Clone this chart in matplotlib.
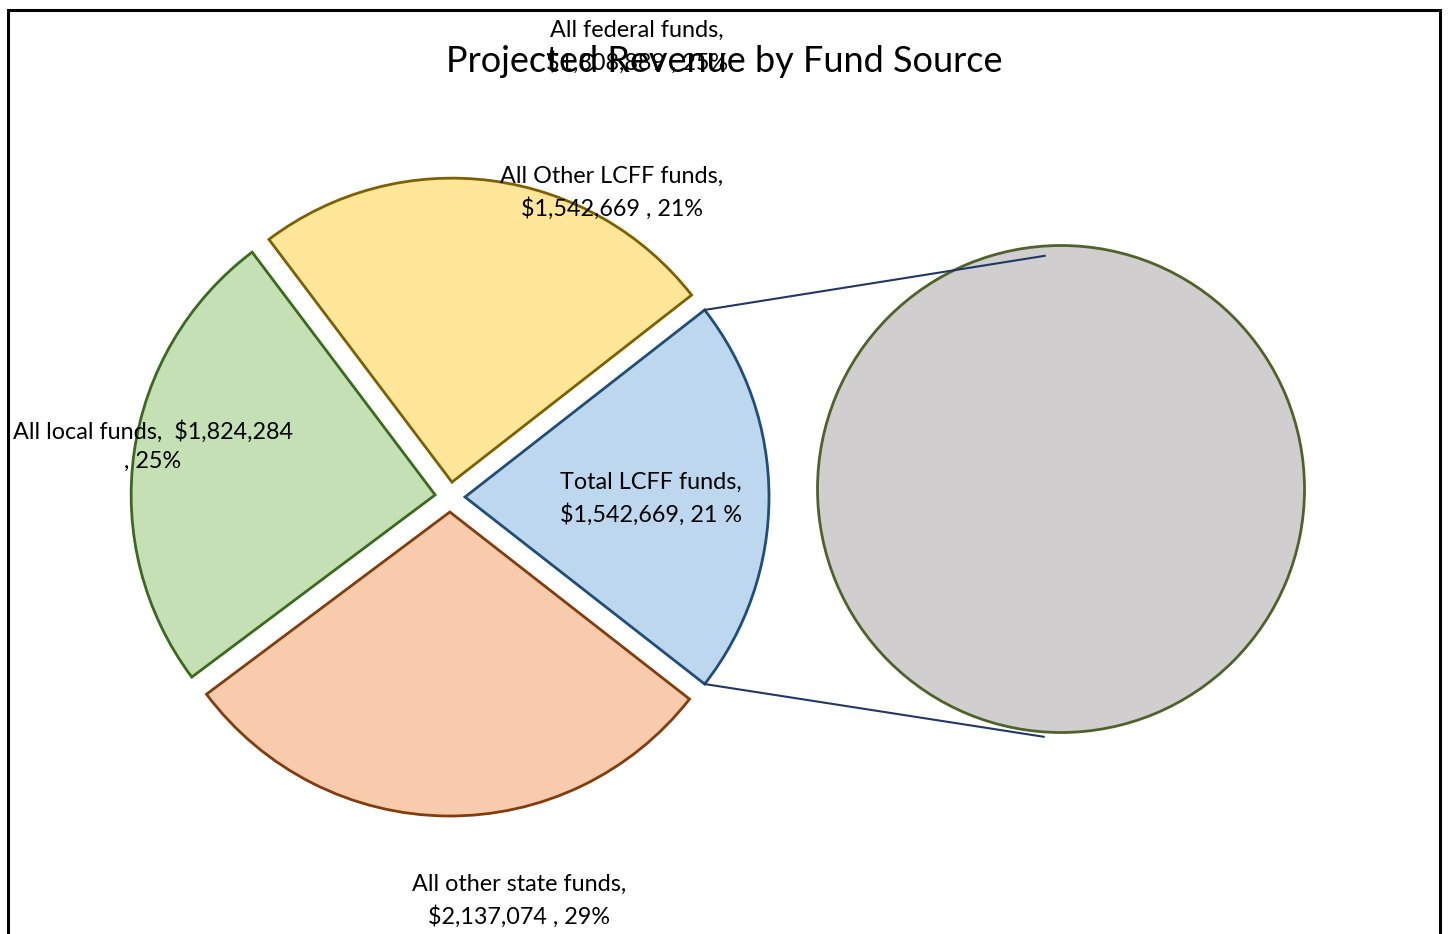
import numpy as np
import matplotlib
matplotlib.use("Agg")
import matplotlib.pyplot as plt
from matplotlib.patches import Rectangle

# --- data ---
slice_names = ["Total LCFF funds", "All federal funds", "All local funds", "All other state funds"]
slice_values = [1542669, 1808889, 1824284, 2137074]
slice_colors = ["#BDD7EE", "#FFE699", "#C5E0B4", "#F8CBAD"]
slice_edges = ["#1F4E79", "#7F6000", "#3B6A1E", "#843C0C"]

second_values = [1542669]

title = "Projected Revenue by Fund Source"
labels = [
    ("All federal funds,\n$1,808,889 , 25%", 637, 47),
    ("All Other LCFF funds,\n$1,542,669 , 21%", 612, 193),
    ("All local funds,  $1,824,284\n, 25%", 153, 446),
    ("Total LCFF funds,\n$1,542,669, 21 %", 651, 499),
    ("All other state funds,\n$2,137,074 , 29%", 519, 901),
]

W, H = 1448, 934
plt.rcParams["font.family"] = ["Lato", "DejaVu Sans"]

fig = plt.figure(figsize=(W / 100, H / 100), dpi=100)
ax = fig.add_axes([0, 0, 1, 1])
ax.set_xlim(0, W)
ax.set_ylim(0, H)
ax.set_aspect("equal")
ax.axis("off")

# main pie (explode is in data units = pixels here)
cx, cy, r = 450, H - 497, 304
total = sum(slice_values)
start = -180 * slice_values[0] / total
wedges, _ = ax.pie(slice_values, colors=slice_colors, center=(cx, cy), radius=r,
                   startangle=start, counterclock=True, explode=[15] * 4,
                   wedgeprops=dict(linewidth=2))
for w, ec in zip(wedges, slice_edges):
    w.set_edgecolor(ec)

# secondary pie
c2x, c2y, r2 = 1061, H - 489, 243.5
w2, _ = ax.pie(second_values, colors=["#D0CECE"], center=(c2x, c2y), radius=r2,
               wedgeprops=dict(linewidth=2, edgecolor="#4F6228"))

# connector lines from blue slice edges to the secondary pie
blue = wedges[0]
bx, by = blue.center
for ang, ang2, f in [(start, -94, 1.02), (-start, 94, 0.96)]:
    p1 = (bx + r * np.cos(np.radians(ang)), by + r * np.sin(np.radians(ang)))
    p2 = (c2x + f * r2 * np.cos(np.radians(ang2)), c2y + f * r2 * np.sin(np.radians(ang2)))
    ax.plot([p1[0], p2[0]], [p1[1], p2[1]], color="#1F3864", lw=1.5, zorder=5)

ax.set_xlim(0, W)
ax.set_ylim(0, H)

# frame
ax.add_patch(Rectangle((8, -20), 1432, H - 10 + 20, fill=False, edgecolor="black",
                       lw=2.2, clip_on=False, zorder=10))

ax.text(724, H - 62, title, ha="center", va="center", fontsize=26, zorder=6)
for txt, x, y in labels:
    ax.text(x, H - y, txt, ha="center", va="center", fontsize=16.8,
            linespacing=1.52, zorder=7)

fig.savefig("out.png", dpi=100)
